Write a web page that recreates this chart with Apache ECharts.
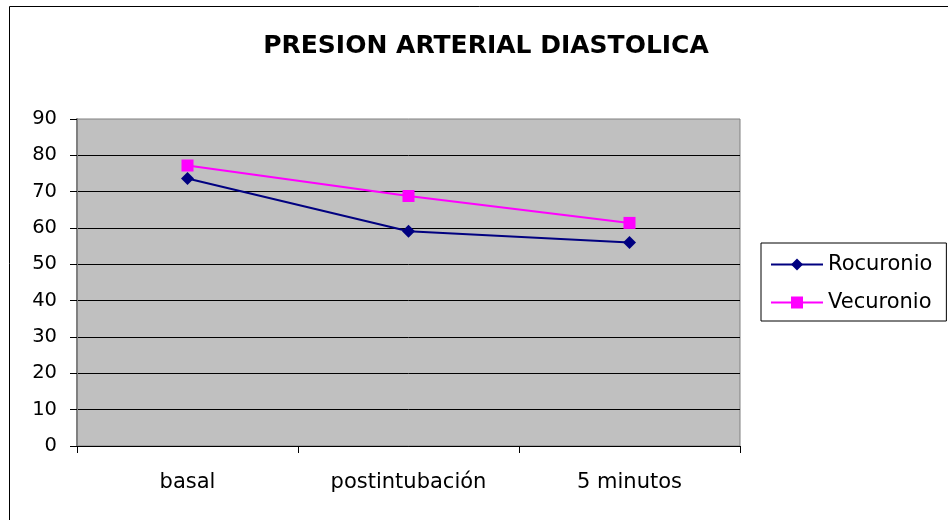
<!DOCTYPE html>
<html>
<head>
<meta charset="utf-8">
<script src="https://cdn.jsdelivr.net/npm/echarts@6/dist/echarts.min.js"></script>
<style>
  html, body { margin: 0; padding: 0; background: #fff; }
</style>
</head>
<body>
<div id="chart" style="width: 948px; height: 520px;"></div>
<script>
const categories = ['basal', 'postintubación', '5 minutos'];
const rocuronio = [73.6, 59.1, 56.0];
const vecuronio = [77.2, 68.8, 61.4];
const yTicks = { min: 0, max: 90, interval: 10 };

const font = 'DejaVu Sans';
const myChart = echarts.init(document.getElementById('chart'));

const option = {
  animation: false,
  backgroundColor: '#fff',
  title: {
    text: 'PRESION ARTERIAL DIASTOLICA',
    left: 486,
    top: 34,
    padding: 0,
    textAlign: 'center',
    textStyle: { fontFamily: font, fontSize: 25, fontWeight: 'bold', color: '#000' }
  },
  graphic: [
    {
      type: 'rect',
      shape: { x: 9.5, y: 6.5, width: 960, height: 540 },
      style: { fill: 'none', stroke: '#000', lineWidth: 1 },
      silent: true
    }
  ],
  legend: {
    orient: 'vertical',
    left: 761,
    top: 243,
    padding: [11, 14, 8, 9],
    itemWidth: 52,
    itemHeight: 15,
    itemGap: 17,
    borderColor: '#000',
    borderWidth: 1,
    textStyle: { fontFamily: font, fontSize: 21, lineHeight: 21, color: '#000' },
    data: ['Rocuronio', 'Vecuronio']
  },
  grid: {
    left: 77,
    top: 119,
    width: 663,
    height: 327,
    show: true,
    backgroundColor: '#c0c0c0',
    borderColor: '#808080',
    borderWidth: 1
  },
  xAxis: {
    type: 'category',
    data: categories,
    boundaryGap: true,
    axisLine: { lineStyle: { color: '#000', width: 1 } },
    axisTick: { show: true, length: 7, lineStyle: { color: '#000' } },
    axisLabel: { margin: 26, fontFamily: font, fontSize: 21, color: '#000' },
    splitLine: { show: false }
  },
  yAxis: {
    type: 'value',
    min: yTicks.min,
    max: yTicks.max,
    interval: yTicks.interval,
    axisLine: { show: true, lineStyle: { color: '#808080', width: 2 } },
    axisTick: { show: true, length: 7, lineStyle: { color: '#000' } },
    axisLabel: { margin: 20, fontFamily: font, fontSize: 19.5, color: '#000' },
    splitLine: { show: true, showMaxLine: false, lineStyle: { color: '#000', width: 1 } }
  },
  series: [
    {
      name: 'Rocuronio',
      type: 'line',
      data: rocuronio,
      symbol: 'diamond',
      symbolSize: 13,
      color: '#000080',
      lineStyle: { color: '#000080', width: 2 },
      itemStyle: { color: '#000080' }
    },
    {
      name: 'Vecuronio',
      type: 'line',
      data: vecuronio,
      symbol: 'rect',
      symbolSize: 12,
      color: '#ff00ff',
      lineStyle: { color: '#ff00ff', width: 2 },
      itemStyle: { color: '#ff00ff' }
    }
  ]
};

myChart.setOption(option);
</script>
</body>
</html>
